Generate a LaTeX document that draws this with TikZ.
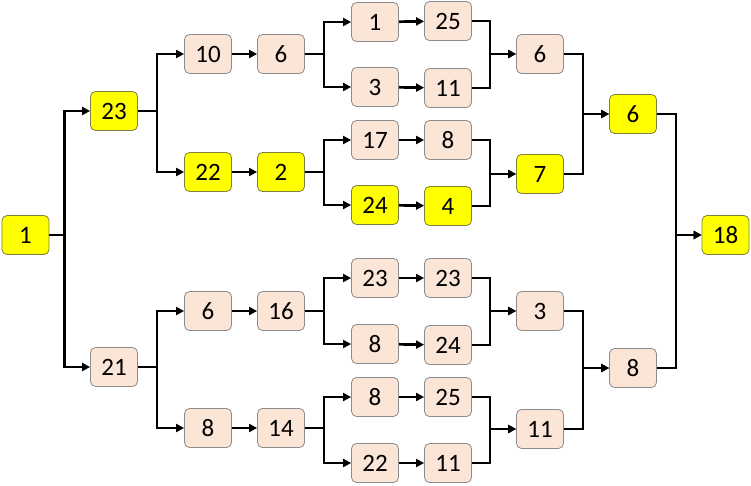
\documentclass[tikz,border=0pt]{standalone}
\usepackage{fontspec}
\setmainfont{Carlito}
\usetikzlibrary{arrows.meta}
\definecolor{peach}{HTML}{FBE5D6}
\definecolor{edgegrey}{HTML}{8C8C8C}
\definecolor{gold}{HTML}{FFFF00}
\definecolor{goldedge}{HTML}{7F7F3F}
\begin{document}
\begin{tikzpicture}[x=1pt,y=-1pt]
\tikzstyle{every node}+=[inner sep=0pt]
\tikzstyle{box}=[rectangle, rounded corners=5pt, minimum width=47pt, minimum height=39pt, font=\fontsize{25}{29}\selectfont, text=black]
\tikzstyle{pbox}=[box, fill=peach, draw=edgegrey, line width=0.8pt]
\tikzstyle{ybox}=[box, fill=gold, draw=goldedge, line width=0.8pt]
\tikzstyle{conn}=[black, line width=2.7pt, -{Triangle[length=8pt,width=8pt]}]
\useasboundingbox (0,0) rectangle (751,485);
\node [ybox] (s) at (25.5,235) {1};
\node [ybox] (p1) at (114,111) {23};
\node [pbox] (p2) at (114,367) {21};
\node [pbox] (q1) at (208,54) {10};
\node [ybox] (q2) at (208,172) {22};
\node [pbox] (q3) at (208,311) {6};
\node [pbox] (q4) at (208,428) {8};
\node [pbox] (r1) at (281,54) {6};
\node [ybox] (r2) at (281,172) {2};
\node [pbox] (r3) at (281,311) {16};
\node [pbox] (r4) at (281,428) {14};
\node [pbox] (t1) at (375,22) {1};
\node [pbox] (t2) at (375,87) {3};
\node [pbox] (t3) at (375,140) {17};
\node [ybox] (t4) at (375,205) {24};
\node [pbox] (t5) at (375,278) {23};
\node [pbox] (t6) at (375,344) {8};
\node [pbox] (t7) at (375,397) {8};
\node [pbox] (t8) at (375,463) {22};
\node [pbox] (v1) at (448,21) {25};
\node [pbox] (v2) at (448,88) {11};
\node [pbox] (v3) at (448,140) {8};
\node [ybox] (v4) at (448,206) {4};
\node [pbox] (v5) at (448,278) {23};
\node [pbox] (v6) at (448,345) {24};
\node [pbox] (v7) at (448,397) {25};
\node [pbox] (v8) at (448,463) {11};
\node [pbox] (w1) at (540,54) {6};
\node [ybox] (w2) at (540,174) {7};
\node [pbox] (w3) at (540,311) {3};
\node [pbox] (w4) at (540,429) {11};
\node [ybox] (y1) at (633,114) {6};
\node [pbox] (y2) at (633,368) {8};
\node [ybox] (z) at (725.5,235) {18};
% split from the first node
\draw [conn] (s.east) -- ++(15,0) |- (p1.west);
\draw [conn] (s.east) -- ++(15,0) |- (p2.west);
\draw [conn] (p1.east) -- ++(19,0) |- (q1.west);
\draw [conn] (p1.east) -- ++(19,0) |- (q2.west);
\draw [conn] (p2.east) -- ++(19,0) |- (q3.west);
\draw [conn] (p2.east) -- ++(19,0) |- (q4.west);
\draw [conn] (q1) -- (r1);
\draw [conn] (q2) -- (r2);
\draw [conn] (q3) -- (r3);
\draw [conn] (q4) -- (r4);
\draw [conn] (r1.east) -- ++(19,0) |- (t1.west);
\draw [conn] (r1.east) -- ++(19,0) |- (t2.west);
\draw [conn] (r2.east) -- ++(19,0) |- (t3.west);
\draw [conn] (r2.east) -- ++(19,0) |- (t4.west);
\draw [conn] (r3.east) -- ++(19,0) |- (t5.west);
\draw [conn] (r3.east) -- ++(19,0) |- (t6.west);
\draw [conn] (r4.east) -- ++(19,0) |- (t7.west);
\draw [conn] (r4.east) -- ++(19,0) |- (t8.west);
\draw [conn] (t1) -- (v1);
\draw [conn] (t2) -- (v2);
\draw [conn] (t3) -- (v3);
\draw [conn] (t4) -- (v4);
\draw [conn] (t5) -- (v5);
\draw [conn] (t6) -- (v6);
\draw [conn] (t7) -- (v7);
\draw [conn] (t8) -- (v8);
% merging back to the last node
\draw [conn] (v1.east) -- ++(18,0) |- (w1.west);
\draw [conn] (v2.east) -- ++(18,0) |- (w1.west);
\draw [conn] (v3.east) -- ++(18,0) |- (w2.west);
\draw [conn] (v4.east) -- ++(18,0) |- (w2.west);
\draw [conn] (v5.east) -- ++(18,0) |- (w3.west);
\draw [conn] (v6.east) -- ++(18,0) |- (w3.west);
\draw [conn] (v7.east) -- ++(18,0) |- (w4.west);
\draw [conn] (v8.east) -- ++(18,0) |- (w4.west);
\draw [conn] (w1.east) -- ++(19,0) |- (y1.west);
\draw [conn] (w2.east) -- ++(19,0) |- (y1.west);
\draw [conn] (w3.east) -- ++(19,0) |- (y2.west);
\draw [conn] (w4.east) -- ++(19,0) |- (y2.west);
\draw [conn] (y1.east) -- ++(19,0) |- (z.west);
\draw [conn] (y2.east) -- ++(19,0) |- (z.west);
\end{tikzpicture}
\end{document}
